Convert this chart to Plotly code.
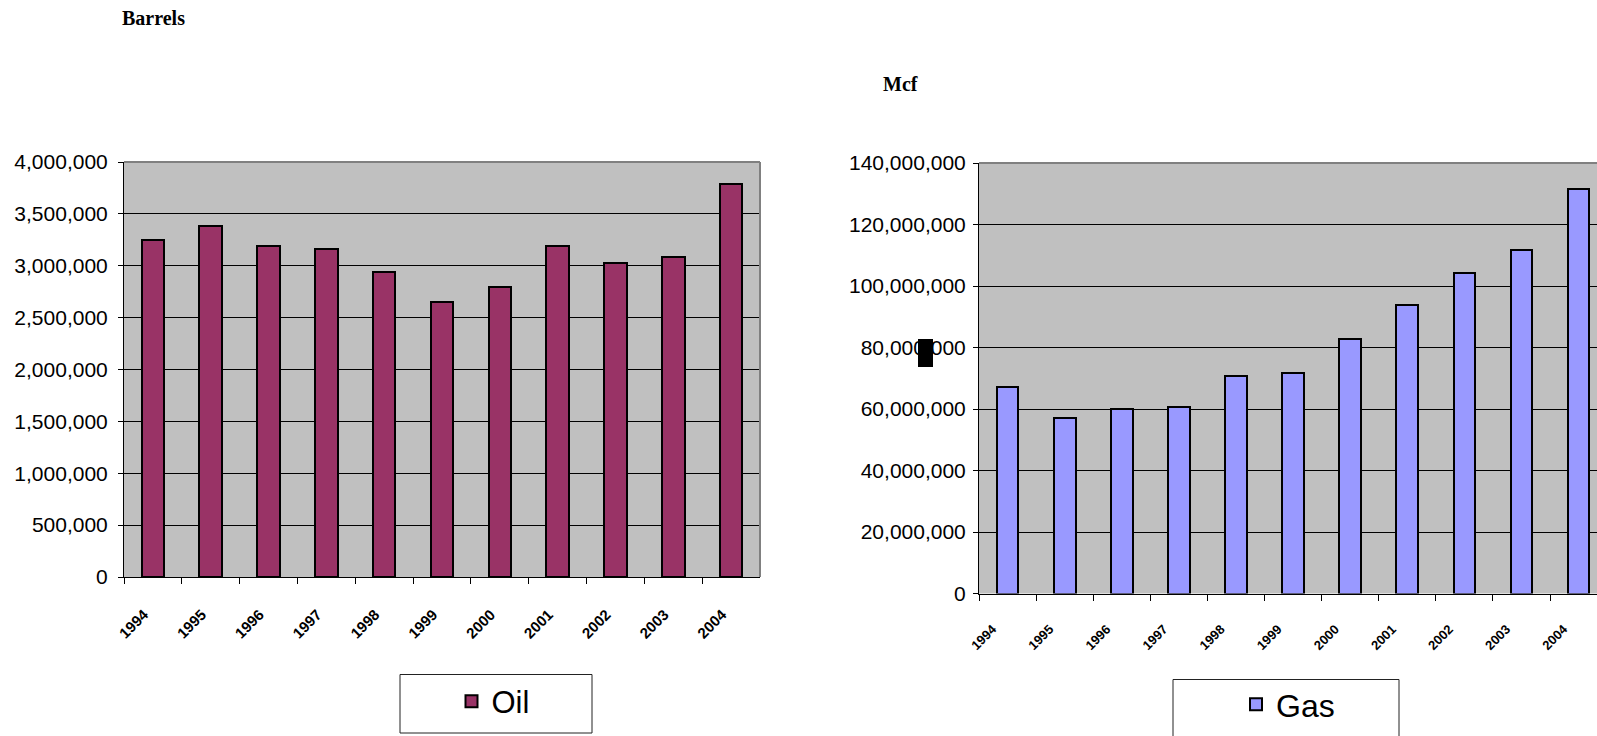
import plotly.graph_objects as go

# ---- data ----
years = ["1994", "1995", "1996", "1997", "1998", "1999", "2000", "2001", "2002", "2003", "2004"]
oil_barrels = [3248000, 3386000, 3187000, 3161000, 2937000, 2651000, 2795000, 3190000, 3024000, 3081000, 3788000]
gas_mcf = [67100000, 57000000, 59900000, 60700000, 70800000, 71800000, 82700000, 93900000, 104100000, 111600000, 131700000]
oil_ticks = [0, 500000, 1000000, 1500000, 2000000, 2500000, 3000000, 3500000, 4000000]
gas_ticks = [0, 20000000, 40000000, 60000000, 80000000, 100000000, 120000000, 140000000]

W, H = 1597, 736


def fx(p):
    return p / W


def fy(p):
    return 1 - p / H


SANS = "Liberation Sans, Arial, sans-serif"
SERIF = "Liberation Serif, Times New Roman, serif"

fig = go.Figure()
fig.add_trace(go.Bar(
    x=years, y=oil_barrels, name="Oil", xaxis="x", yaxis="y",
    marker=dict(color="#993366", line=dict(color="black", width=2)),
    width=0.39, legend="legend",
))
fig.add_trace(go.Bar(
    x=years, y=gas_mcf, name="Gas", xaxis="x2", yaxis="y2",
    marker=dict(color="#9999FF", line=dict(color="black", width=2)),
    width=0.38, legend="legend2",
))

xcommon = dict(
    type="category", showline=True, linecolor="black", linewidth=1,
    ticks="outside", tickson="boundaries", ticklen=6, tickcolor="black",
    tickangle=-45, showgrid=False, zeroline=False, automargin=False,
)
ycommon = dict(
    showgrid=True, gridcolor="black", gridwidth=1, showline=True,
    linecolor="black", linewidth=1, ticks="outside", ticklen=5,
    tickcolor="black", tickformat=",", zeroline=False, automargin=False,
    ticklabelstandoff=6,
    tickfont=dict(family=SANS, size=21, color="black"),
)

fig.update_layout(
    width=W, height=H,
    margin=dict(l=0, r=0, t=0, b=0, autoexpand=False),
    paper_bgcolor="white", plot_bgcolor="#C0C0C0",
    bargap=0, showlegend=True,
    xaxis=dict(xcommon, domain=[fx(124), fx(760)], anchor="y", range=[-0.5, 10.5],
               tickfont=dict(family=SANS, size=15, color="black", weight="bold"),
               ticklabelstandoff=22, ticklabelshift=-9),
    yaxis=dict(ycommon, domain=[fy(577), fy(162)], anchor="x", range=[0, 4000000],
               tickvals=oil_ticks),
    xaxis2=dict(xcommon, domain=[fx(979), 1], anchor="y2", range=[-0.5, 10.323],
                tickfont=dict(family=SANS, size=13, color="black", weight="bold"),
                ticklabelstandoff=22, ticklabelshift=-15),
    yaxis2=dict(ycommon, domain=[fy(593.5), fy(163)], anchor="x2", range=[0, 140000000],
                tickvals=gas_ticks, ticklabelstandoff=3),
    legend=dict(x=fx(451.5), y=fy(674.5), xanchor="left", yanchor="top",
                bgcolor="rgba(0,0,0,0)", borderwidth=0,
                font=dict(family=SANS, size=31, color="black")),
    legend2=dict(x=fx(1236), y=fy(677), xanchor="left", yanchor="top",
                 bgcolor="rgba(0,0,0,0)", borderwidth=0,
                 font=dict(family=SANS, size=32, color="black")),
)

shapes = [
    # grey plot-area borders (top / right)
    dict(type="line", xref="x domain", yref="y domain", x0=0, x1=1, y0=1, y1=1,
         line=dict(color="#808080", width=2), layer="above"),
    dict(type="line", xref="x domain", yref="y domain", x0=1, x1=1, y0=0, y1=1,
         line=dict(color="#808080", width=2), layer="above"),
    dict(type="line", xref="x2 domain", yref="y2 domain", x0=0, x1=1, y0=1, y1=1,
         line=dict(color="#808080", width=2), layer="above"),
    # legend boxes
    dict(type="rect", xref="paper", yref="paper", x0=fx(400), x1=fx(592),
         y0=fy(733), y1=fy(674.5), line=dict(color="#222222", width=1)),
    dict(type="rect", xref="paper", yref="paper", x0=fx(1173), x1=fx(1399),
         y0=fy(760), y1=fy(679.5), line=dict(color="#222222", width=1)),
    # stray black block over the 80,000,000 label
    dict(type="rect", xref="paper", yref="paper", x0=fx(918), x1=fx(933),
         y0=fy(367), y1=fy(339), fillcolor="black", line=dict(width=0), layer="above"),
]
fig.update_layout(shapes=shapes)

fig.add_annotation(text="<b>Barrels</b>", x=fx(153), y=fy(18), xref="paper", yref="paper",
                   xanchor="center", yanchor="middle", showarrow=False,
                   font=dict(family=SERIF, size=20, color="black"))
fig.add_annotation(text="<b>Mcf</b>", x=fx(900), y=fy(84), xref="paper", yref="paper",
                   xanchor="center", yanchor="middle", showarrow=False,
                   font=dict(family=SERIF, size=20, color="black"))

fig.write_html("out.html")
